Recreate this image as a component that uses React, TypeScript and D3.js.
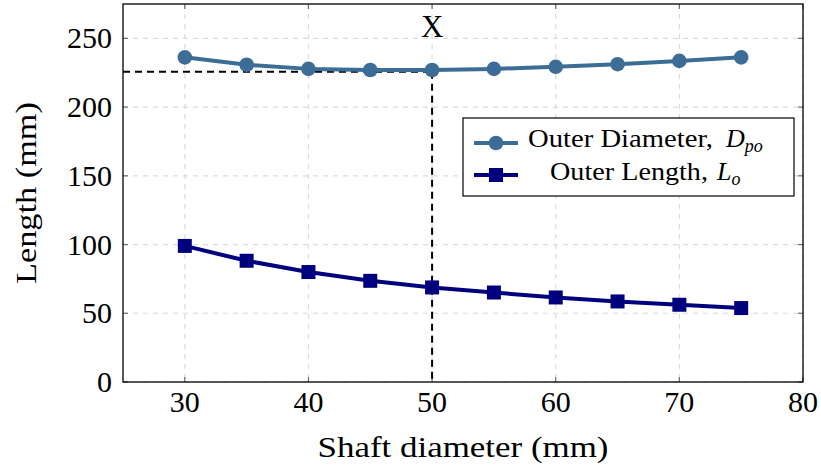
import React from "react";
import * as d3 from "d3";

const shaftDiameters = [30, 35, 40, 45, 50, 55, 60, 65, 70, 75];
const outerDiameter = [236.2, 230.8, 227.8, 227.0, 227.0, 227.8, 229.3, 231.2, 233.6, 236.2];
const outerLength = [99.0, 88.2, 80.0, 73.6, 68.8, 65.1, 61.5, 58.6, 56.2, 53.8];
const xTicks = [30, 40, 50, 60, 70, 80];
const yTicks = [0, 50, 100, 150, 200, 250];
const markerX = 50;
const markerY = 225.8;

const W = 821;
const H = 471;
const M = { left: 123, right: 803, top: 4, bottom: 382 };
const FONT = "Liberation Serif, DejaVu Serif, serif";
const C1 = "#3c6d97";
const C2 = "#00007f";

export default function App() {
  const x = d3.scaleLinear().domain([25, 80]).range([M.left, M.right]);
  const y = d3.scaleLinear().domain([0, 275]).range([M.bottom, M.top]);
  const line = d3
    .line<[number, number]>()
    .x((d) => x(d[0]))
    .y((d) => y(d[1]));
  const d1 = shaftDiameters.map((v, i) => [v, outerDiameter[i]] as [number, number]);
  const d2 = shaftDiameters.map((v, i) => [v, outerLength[i]] as [number, number]);
  const tickLen = 5;
  const gridColor = "#dcdcdc";
  const tickColor = "#6e6e6e";
  const ts = { fontFamily: FONT };

  const lx = 463, ly = 118, lw = 331, lh = 78;

  return (
    <svg width={W} height={H} style={{ position: "absolute", left: 0, top: 0, background: "#fff" }}>
      <rect x={0} y={0} width={W} height={H} fill="#fff" />
      {xTicks.map((t) => (
        <line key={"gx" + t} x1={x(t)} x2={x(t)} y1={M.top} y2={M.bottom} stroke={gridColor} strokeWidth={1.2} strokeDasharray="5,5" />
      ))}
      {yTicks.map((t) => (
        <line key={"gy" + t} x1={M.left} x2={M.right} y1={y(t)} y2={y(t)} stroke={gridColor} strokeWidth={1.2} strokeDasharray="5,5" />
      ))}
      {xTicks.map((t) => (
        <g key={"tx" + t}>
          <line x1={x(t)} x2={x(t)} y1={M.bottom} y2={M.bottom - tickLen} stroke={tickColor} strokeWidth={1.2} />
          <line x1={x(t)} x2={x(t)} y1={M.top} y2={M.top + tickLen} stroke={tickColor} strokeWidth={1.2} />
          <text x={x(t)} y={412} textAnchor="middle" style={ts} fontSize={30} fill="#000">{t}</text>
        </g>
      ))}
      {yTicks.map((t) => (
        <g key={"ty" + t}>
          <line x1={M.left} x2={M.left + tickLen} y1={y(t)} y2={y(t)} stroke={tickColor} strokeWidth={1.2} />
          <line x1={M.right} x2={M.right - tickLen} y1={y(t)} y2={y(t)} stroke={tickColor} strokeWidth={1.2} />
          <text x={112} y={y(t) + 10} textAnchor="end" style={ts} fontSize={30} fill="#000">{t}</text>
        </g>
      ))}
      <line x1={M.left} x2={x(markerX)} y1={y(markerY)} y2={y(markerY)} stroke="#000" strokeWidth={2} strokeDasharray="7,5" />
      <line x1={x(markerX)} x2={x(markerX)} y1={y(markerY)} y2={M.bottom} stroke="#000" strokeWidth={2} strokeDasharray="7,5" />
      <text x={x(markerX)} y={37} textAnchor="middle" style={ts} fontSize={31} fill="#000">X</text>
      <path d={line(d1) || ""} fill="none" stroke={C1} strokeWidth={4} strokeLinejoin="round" />
      {d1.map((d, i) => (
        <circle key={"c" + i} cx={x(d[0])} cy={y(d[1])} r={7.3} fill={C1} />
      ))}
      <path d={line(d2) || ""} fill="none" stroke={C2} strokeWidth={4} strokeLinejoin="round" />
      {d2.map((d, i) => (
        <rect key={"s" + i} x={x(d[0]) - 7} y={y(d[1]) - 7} width={14} height={14} fill={C2} />
      ))}
      <rect x={M.left} y={M.top} width={M.right - M.left} height={M.bottom - M.top} fill="none" stroke="#000" strokeWidth={1.3} />
      <rect x={lx} y={ly} width={lw} height={lh} fill="#fff" stroke="#000" strokeWidth={1.2} />
      <line x1={474} x2={518} y1={143} y2={143} stroke={C1} strokeWidth={4} />
      <circle cx={496} cy={143} r={7.3} fill={C1} />
      <text x={528} y={147} style={ts} fontSize={26} fill="#000" textLength={185} lengthAdjust="spacingAndGlyphs">
        Outer Diameter,
      </text>
      <text x={726} y={147} style={ts} fontSize={26} fill="#000">
        <tspan fontStyle="italic">D</tspan>
        <tspan fontStyle="italic" fontSize={18} dy={5}>po</tspan>
      </text>
      <line x1={474} x2={518} y1={175} y2={175} stroke={C2} strokeWidth={4} />
      <rect x={489} y={168} width={14} height={14} fill={C2} />
      <text x={550} y={180} style={ts} fontSize={26} fill="#000" textLength={158} lengthAdjust="spacingAndGlyphs">
        Outer Length,
      </text>
      <text x={717} y={180} style={ts} fontSize={26} fill="#000">
        <tspan fontStyle="italic">L</tspan>
        <tspan fontStyle="italic" fontSize={18} dy={5}>o</tspan>
      </text>
      <text x={M.left + (M.right - M.left) / 2} y={457} textAnchor="middle" style={ts} fontSize={30} fill="#000" textLength={291} lengthAdjust="spacingAndGlyphs">
        Shaft diameter (mm)
      </text>
      <text transform={`translate(36, ${(M.top + M.bottom) / 2}) rotate(-90)`} textAnchor="middle" style={ts} fontSize={30} fill="#000" textLength={182} lengthAdjust="spacingAndGlyphs">
        Length (mm)
      </text>
    </svg>
  );
}
